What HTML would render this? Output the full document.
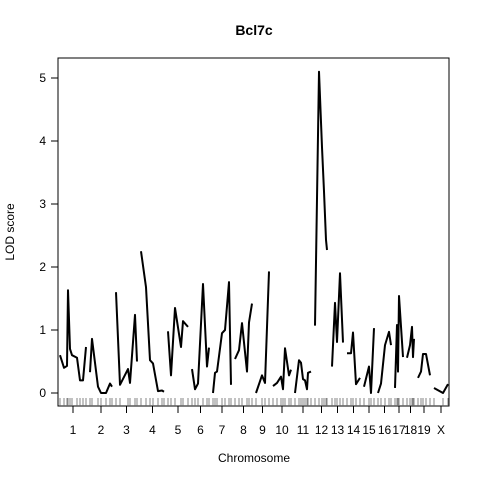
<!DOCTYPE html>
<html><head><meta charset="utf-8"><style>
body{margin:0;background:#fff}
svg{display:block;font-family:"Liberation Sans",Arial,sans-serif}
</style></head><body>
<svg id="c" width="480" height="480">
<text x="254" y="35" text-anchor="middle" font-weight="bold" font-size="14">Bcl7c</text>
<text x="254" y="462" text-anchor="middle" font-size="12">Chromosome</text>
<text transform="translate(14,232) rotate(-90)" text-anchor="middle" font-size="12">LOD score</text>
<rect x="58" y="58" width="391" height="348" fill="none" stroke="#000"/>
<g id="g"></g>
</svg>
<script>
const chrNames=["1","2","3","4","5","6","7","8","9","10","11","12","13","14","15","16","17","18","19","X"];
const chrLengths=[26,22,21,23,20,17,18,17,13,18,16,13,11,13,10,13,8,7,12,14];
const chrPos=[
[0,4,7,8,10,12,17,20,23,26],
[0,2,8,11,16,20,22],
[0,4,12,14,19,21],
[0,5,9,12,17,21,23],
[0,3,7,13,15,20],
[0,3,6,11,15,17],
[0,2,4,9,12,16,18],
[0,4,7,12,14,17],
[0,6,9,13],
[0,4,8,10,12,16,18],
[0,4,6,8,10,12,13,16],
[0,4,7,9,11,12],
[0,3,5,8,11],
[0,4,6,9,13],
[0,5,7,10],
[0,3,7,11,13],
[0,2,3,4,8],
[0,3,5,6,7],
[0,3,5,8,12],
[0,9,14]];
const chrLod=[
[0.6,0.4,0.43,1.63,0.7,0.6,0.56,0.2,0.2,0.73],
[0.33,0.86,0.1,0,0,0.15,0.1],
[1.6,0.13,0.38,0.16,1.24,0.5],
[2.25,1.68,0.52,0.47,0.03,0.04,0.02],
[0.98,0.28,1.35,0.73,1.14,1.05],
[0.38,0.06,0.15,1.73,0.42,0.72],
[0,0.32,0.34,0.95,1.0,1.76,0.13],
[0.54,0.68,1.11,0.34,1.12,1.42],
[0,0.28,0.16,1.93],
[0.11,0.16,0.26,0.06,0.71,0.28,0.37],
[0,0.52,0.48,0.22,0.2,0.06,0.32,0.34],
[1.07,5.1,3.9,3.2,2.43,2.27],
[0.42,1.43,0.81,1.9,0.8],
[0.63,0.63,0.96,0.14,0.24],
[0.1,0.42,0,1.03],
[0,0.15,0.76,0.97,0.76],
[0.08,1.08,0.34,1.54,0.57],
[0.56,0.76,1.05,0.57,0.86],
[0.24,0.34,0.62,0.62,0.28],
[0.08,0,0.14]];
const yTicks=[0,1,2,3,4,5];
const GAP=4;
const total=chrLengths.reduce((a,b)=>a+b,0)+GAP*(chrLengths.length-1);
const x=v=>60+v*(388/total);
const y=v=>393-v*63;
const g=document.getElementById('g');
const NS='http://www.w3.org/2000/svg';
function mk(t,a){const e=document.createElementNS(NS,t);for(const k in a)e.setAttribute(k,a[k]);g.appendChild(e);return e;}
yTicks.forEach(t=>{
  const l=mk('line',{x1:51,x2:58,y1:y(t),y2:y(t),stroke:'#000'});
  
  
  const tx=mk('text',{x:46,y:y(t)+4,'text-anchor':'end','font-size':12});
  tx.textContent=t;
  
  
});
let off=0;
chrNames.forEach((n,i)=>{
  const mid=x(off+chrLengths[i]/2);
  const tk=mk('line',{x1:mid,x2:mid,y1:406,y2:413,stroke:'#000'});
  
  
  const tl=mk('text',{x:mid,y:434,'text-anchor':'middle','font-size':12});
  tl.textContent=n;
  
  
  const pts=chrPos[i].map((p,j)=>x(off+p)+','+y(chrLod[i][j])).join(' ');
  const pl=mk('polyline',{points:pts,fill:'none',stroke:'#000','stroke-width':2,'stroke-linejoin':'round'});
  
  
  chrPos[i].forEach(p=>{
    const r=mk('line',{x1:x(off+p),x2:x(off+p),y1:398,y2:406,stroke:'#666','stroke-width':0.8});
    
    
  });
  off+=chrLengths[i]+GAP;
});
</script>
</body></html>
